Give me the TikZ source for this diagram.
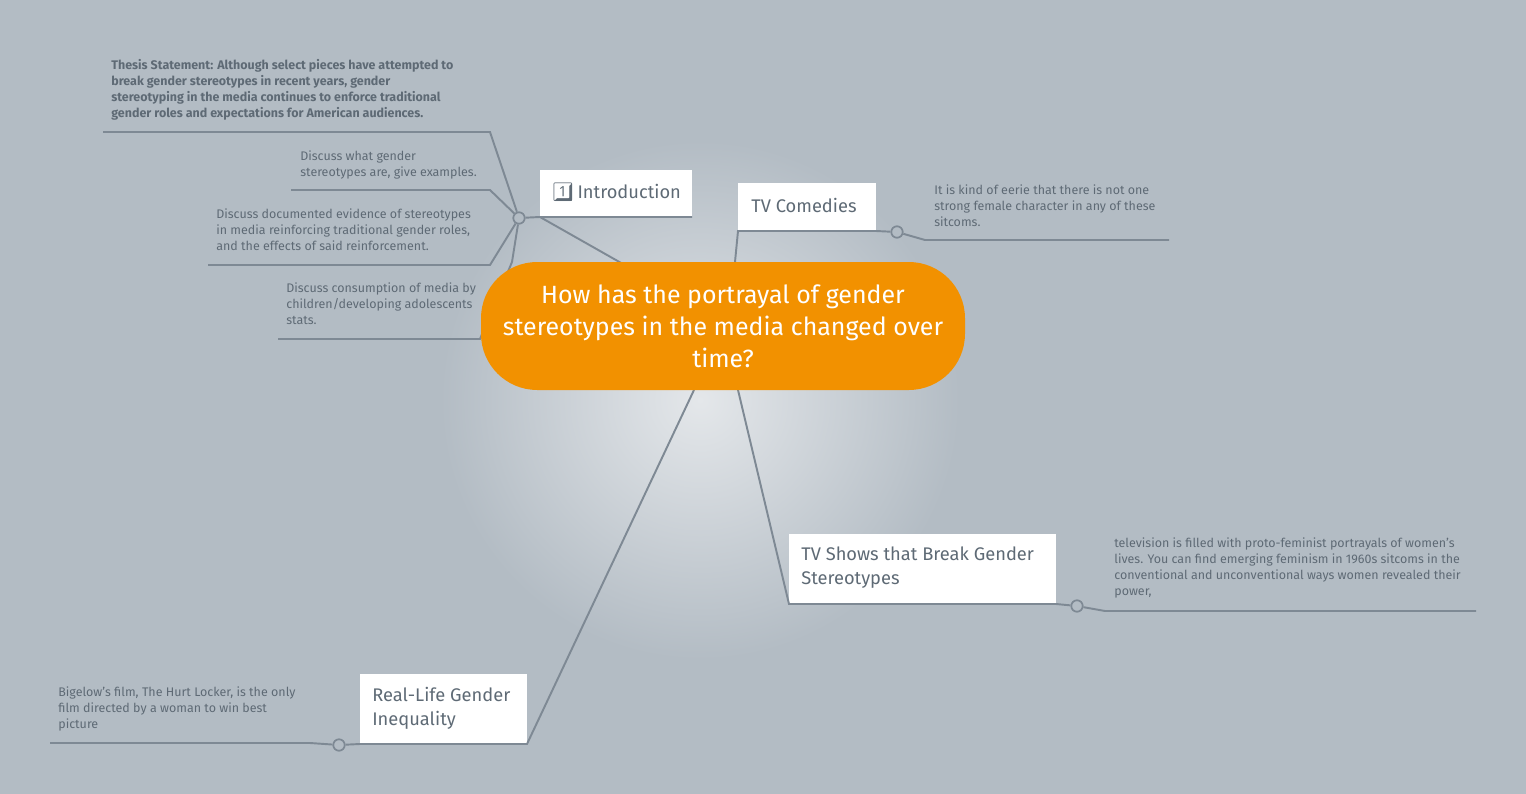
\documentclass[tikz,border=0pt]{standalone}
\usepackage{fontspec}
\setmainfont{Fira Sans}
\newfontfamily\emo{Noto Emoji}
\definecolor{bg}{HTML}{B3BCC4}
\definecolor{bgc}{HTML}{E4E7EA}
\definecolor{ln}{HTML}{7E8994}
\definecolor{tx}{HTML}{5E6A75}
\definecolor{org}{HTML}{F29100}
\begin{document}
\begin{tikzpicture}[x=0.02cm,y=-0.02cm,
  lin/.style={draw=ln,line width=1.1pt},
  topic/.style={anchor=west,inner sep=0pt,text=tx,align=left,font=\fontsize{10.4}{13.6}\selectfont},
  note/.style={anchor=north west,inner sep=0pt,text=tx,font=\fontsize{7.1}{9.1}\selectfont,align=left},
  dot/.style={circle,draw=ln,fill=bg,line width=1pt,minimum size=6.5pt,inner sep=0pt}]
\useasboundingbox (0,0) rectangle (1526,794);
\fill[bg] (0,0) rectangle (1526,794);
\shade[inner color=bgc,outer color=bg] (700,400) circle (260);
\coordinate (c1) at (630,268);
\coordinate (c2) at (735,262);
\coordinate (c3) at (738,390);
\coordinate (c4) at (694,390);
\fill[white] (540,170) rectangle (692,217);
\node[topic] (intro) at (551,192) {{\emo 1\char"FE0F\char"20E3}\,Introduction};
\fill[white] (738,183) rectangle (876,231);
\node[topic] (tvc) at (751,205) {TV Comedies};
\fill[white] (789,534) rectangle (1056,604);
\node[topic] (tvs) at (801,568) {TV Shows that Break Gender\\Stereotypes};
\fill[white] (360,674) rectangle (527,744);
\node[topic] (rl) at (372,708) {Real-Life Gender\\Inequality};
\coordinate (ib) at (540,217); \coordinate (ie) at (692,217);
\coordinate (cb) at (738,231); \coordinate (ce) at (876,231);
\coordinate (sb) at (789,604); \coordinate (se) at (1056,604);
\coordinate (rb) at (527,744); \coordinate (re) at (360,744);
\draw[lin] (c1) -- (ib) -- (ie);
\draw[lin] (c2) -- (cb) -- (ce);
\draw[lin] (c3) -- (sb) -- (se);
\draw[lin] (c4) -- (rb) -- (re);
\node[dot] (d1) at (519,218) {};
\draw[lin] (ib) -- (d1);
\coordinate (a1) at (490,132); \coordinate (a1e) at (103,132);
\coordinate (a2) at (490,190); \coordinate (a2e) at (291,190);
\coordinate (a3) at (490,265); \coordinate (a3e) at (208,265);
\coordinate (a4) at (480,339); \coordinate (a4e) at (278,339);
\draw[lin] (d1) -- (a1) -- (a1e);
\draw[lin] (d1) -- (a2) -- (a2e);
\draw[lin] (d1) -- (a3) -- (a3e);
\draw[lin] (d1) -- (512,262) -- (a4) -- (a4e);
\node[note,font=\bfseries\fontsize{7.1}{9.1}\selectfont] (t1) at (111,59) {Thesis Statement: Although select pieces have attempted to\\break gender stereotypes in recent years, gender\\stereotyping in the media continues to enforce traditional\\gender roles and expectations for American audiences.};
\node[note] (t2) at (300,150) {Discuss what gender\\stereotypes are, give examples.};
\node[note] (t3) at (216,208) {Discuss documented evidence of stereotypes\\in media reinforcing traditional gender roles,\\and the effects of said reinforcement.};
\node[note] (t4) at (286,282) {Discuss consumption of media by\\children/developing adolescents\\stats.};
\node[dot] (d2) at (897,232) {};
\draw[lin] (ce) -- (d2) -- (925,240) -- (1169,240);
\node[note] (t5) at (934,184) {It is kind of eerie that there is not one\\strong female character in any of these\\sitcoms.};
\node[dot] (d3) at (1077,606) {};
\draw[lin] (se) -- (d3) -- (1105,611) -- (1476,611);
\node[note] (t6) at (1114,537) {television is filled with proto-feminist portrayals of women's\\lives. You can find emerging feminism in 1960s sitcoms in the\\conventional and unconventional ways women revealed their\\power,};
\node[dot] (d4) at (339,745) {};
\draw[lin] (re) -- (d4) -- (310,743) -- (50,743);
\node[note] (t7) at (58,686) {Bigelow's film, The Hurt Locker, is the only\\film directed by a woman to win best\\picture};
\node[fill=org,rounded corners=32pt,minimum width=484*0.02cm,minimum height=128*0.02cm,text=white,align=center,font=\fontsize{14.2}{18.2}\selectfont] (main) at (723,326) {How has the portrayal of gender\\stereotypes in the media changed over\\time?};
\end{tikzpicture}
\end{document}
